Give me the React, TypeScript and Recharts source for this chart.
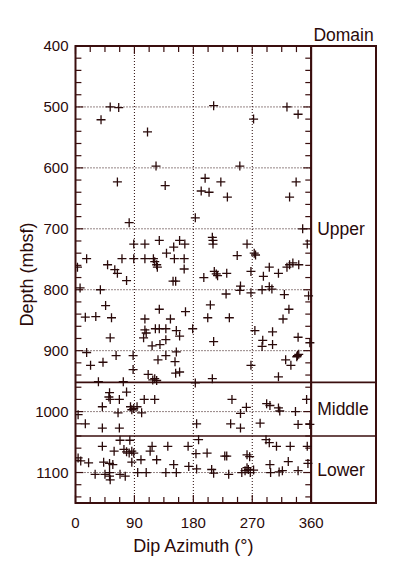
import {
  ScatterChart,
  Scatter,
  XAxis,
  YAxis,
  ReferenceLine,
  ReferenceArea,
  Label,
} from "recharts";

const FONT = '"Liberation Sans", Arial, Helvetica, sans-serif';
const INK = "#2a0a0a";
const FRAME = "#3a0e0e";

// axis setup
const AZIMUTH_MAX = 360;
const PANEL_MAX = 459; // right "Domain" column sits past 360 on the same scale
const DEPTH_MIN = 400;
const DEPTH_MAX = 1150;

const AZIMUTH_LABELS = [0, 90, 180, 270, 360];
const AZIMUTH_TICKS = [0, 22.5, 45, 67.5, 90, 112.5, 135, 157.5, 180, 202.5, 225, 247.5, 270, 292.5, 315, 337.5, 360];
const DEPTH_LABELS = [400, 500, 600, 700, 800, 900, 1000, 1100];
const DEPTH_TICKS = [
  400, 420, 440, 460, 480, 500, 520, 540, 560, 580, 600, 620, 640, 660, 680, 700, 720, 740, 760, 780,
  800, 820, 840, 860, 880, 900, 920, 940, 960, 980, 1000, 1020, 1040, 1060, 1080, 1100, 1120, 1140,
];
const GRID_AZIMUTH = [90, 180, 270];
const GRID_DEPTH = [500, 600, 700, 800, 900, 1000, 1100];

// inward tick lengths, in axis units (about 6 px minor / 8 px major)
const AZ_TICK_LEN = [9, 12];
const DEPTH_TICK_LEN = [10, 13];

// domain boundaries (mbsf)
const DOMAIN_BOUNDS = [952, 1040];
const DOMAIN_NAMES = ["Upper", "Middle", "Lower"];
const DOMAIN_LABEL_DEPTH = [700, 996, 1095];

// [dip azimuth (deg), depth (mbsf)]
const UPPER_DIPS = [
  [53, 500], [66, 501], [39, 521], [110, 541], [211, 498], [272, 520], [323, 500], [340, 512],
  [123, 597], [251, 597], [64, 623], [137, 629], [198, 617], [222, 623], [192, 638], [204, 640],
  [232, 648], [337, 623], [327, 648], [82, 690], [183, 682], [347, 700],
  [209, 714], [210, 719], [210, 725], [89, 725], [106, 725], [128, 719], [159, 719], [167, 725],
  [150, 730], [262, 725], [354, 725], [139, 740], [17, 749], [71, 749], [89, 749], [106, 749],
  [119, 749], [121, 754], [124, 759], [125, 763], [151, 749], [166, 749], [166, 766], [247, 744],
  [273, 740], [275, 743], [268, 770], [3, 763], [49, 759], [60, 767], [64, 773], [196, 780],
  [212, 770], [215, 774], [217, 777], [231, 773], [296, 763], [287, 778], [310, 773], [323, 763],
  [327, 759], [332, 756], [341, 759], [149, 786], [153, 786], [78, 785], [7, 797], [38, 800],
  [230, 807], [251, 801], [252, 794], [268, 805], [285, 800], [296, 795], [300, 799], [319, 808],
  [356, 810], [206, 825], [46, 826], [15, 845], [31, 844], [55, 846], [128, 832], [168, 836],
  [106, 848], [145, 848], [202, 846], [235, 846], [326, 832], [317, 848],
  [106, 866], [108, 871], [122, 864], [128, 864], [138, 864], [154, 867], [159, 876], [179, 864],
  [53, 879], [104, 879], [117, 892], [129, 890], [138, 882], [211, 885], [274, 867], [301, 869],
  [286, 883], [285, 893], [301, 890], [340, 878], [358, 887],
  [17, 903], [23, 924], [42, 919], [62, 908], [88, 908], [88, 931], [126, 915], [138, 908],
  [154, 902], [152, 918], [153, 937], [159, 935], [111, 939], [118, 948], [121, 946], [124, 949],
  [209, 946], [268, 924], [310, 943], [321, 915], [329, 924], [339, 908], [341, 906], [338, 910],
  [35, 951], [73, 951],
];

const MIDDLE_DIPS = [
  [183, 953], [52, 969], [51, 976], [78, 968], [53, 980], [67, 980], [105, 980], [121, 980],
  [41, 992], [84, 992], [86, 997], [89, 995], [94, 992], [65, 1002], [101, 1002], [4, 1005],
  [239, 980], [252, 1003], [261, 993], [292, 987], [297, 990], [310, 994], [312, 999], [353, 980],
  [336, 1000], [15, 1020], [41, 1027], [67, 1027], [185, 1020], [237, 1020], [252, 1027],
  [282, 1019], [340, 1021], [358, 1021],
];

const LOWER_DIPS = [
  [68, 1047], [83, 1047], [41, 1057], [59, 1065], [74, 1062], [78, 1066], [82, 1068], [86, 1065],
  [89, 1068], [117, 1057], [114, 1065], [141, 1057], [172, 1057], [188, 1046], [184, 1069],
  [201, 1068], [228, 1073], [231, 1073], [262, 1071], [266, 1074], [291, 1046], [296, 1051],
  [307, 1057], [328, 1057], [354, 1057],
  [4, 1076], [8, 1081], [20, 1084], [43, 1083], [52, 1085], [57, 1087], [86, 1083], [100, 1079],
  [124, 1079], [150, 1087], [154, 1100], [173, 1090], [185, 1094], [208, 1095], [211, 1101],
  [234, 1103], [254, 1100], [259, 1097], [262, 1092], [264, 1095], [267, 1100], [272, 1096],
  [297, 1087], [298, 1100], [311, 1099], [316, 1097], [325, 1082], [340, 1097], [355, 1085],
  [30, 1103], [45, 1103], [52, 1100], [52, 1106], [53, 1112], [68, 1103], [76, 1106], [95, 1100],
  [108, 1100], [138, 1100],
];

const toPoints = (rows: number[][]) => rows.map(([az, depth]) => ({ az, depth }));

// tick segments along the four sides of the azimuth frame
const tickSegments: { x: number; y: number }[][] = [];
AZIMUTH_TICKS.forEach((az) => {
  const len = DEPTH_TICK_LEN[az % 90 === 0 ? 1 : 0];
  tickSegments.push([{ x: az, y: DEPTH_MIN }, { x: az, y: DEPTH_MIN + len }]);
  tickSegments.push([{ x: az, y: DEPTH_MAX }, { x: az, y: DEPTH_MAX - len }]);
});
DEPTH_TICKS.forEach((depth) => {
  const len = AZ_TICK_LEN[depth % 100 === 0 ? 1 : 0];
  tickSegments.push([{ x: 0, y: depth }, { x: len, y: depth }]);
  tickSegments.push([{ x: AZIMUTH_MAX, y: depth }, { x: AZIMUTH_MAX - len, y: depth }]);
});

const Cross = (props: any) => {
  const { cx, cy } = props;
  if (cx == null || cy == null) return null;
  return (
    <path
      d={`M${cx - 4.5},${cy}h9M${cx},${cy - 4.5}v9`}
      stroke={INK}
      strokeWidth={1.3}
      fill="none"
    />
  );
};

const AzimuthLabel = ({ x, y, payload }: any) => (
  <text x={x} y={y + 20} dy="0.36em" textAnchor="middle" fontSize={15} fontFamily={FONT} fill={INK}>
    {payload.value}
  </text>
);

const DepthLabel = ({ x, y, payload }: any) => (
  <text x={x - 7} y={y} dy="0.36em" textAnchor="end" fontSize={15} fontFamily={FONT} fill={INK}>
    {payload.value}
  </text>
);

const labelStyle = { fontSize: 17.5, fontFamily: FONT, fill: INK };

export default function App() {
  return (
    <div style={{ width: 377, height: 560, background: "#fff" }}>
      <ScatterChart width={377} height={560} margin={{ top: 38, right: 9, bottom: 15, left: 0 }}>
        <XAxis
          dataKey="az"
          type="number"
          domain={[0, PANEL_MAX]}
          ticks={AZIMUTH_LABELS}
          interval={0}
          allowDataOverflow
          axisLine={false}
          tickLine={false}
          tickSize={0}
          tickMargin={0}
          height={50}
          tick={<AzimuthLabel />}
        />
        <YAxis
          dataKey="depth"
          type="number"
          reversed
          domain={[DEPTH_MIN, DEPTH_MAX]}
          ticks={DEPTH_LABELS}
          interval={0}
          allowDataOverflow
          axisLine={false}
          tickLine={false}
          tickSize={0}
          tickMargin={0}
          width={67.5}
          tick={<DepthLabel />}
        >
          <Label
            value="Depth (mbsf)"
            angle={-90}
            position="insideLeft"
            offset={19}
            style={{ ...labelStyle, fontSize: 18, textAnchor: "middle" }}
          />
        </YAxis>

        {GRID_AZIMUTH.map((az) => (
          <ReferenceLine key={"gx" + az} x={az} stroke={INK} strokeWidth={1} strokeDasharray="1 2" />
        ))}
        {GRID_DEPTH.map((d) => (
          <ReferenceLine
            key={"gy" + d}
            segment={[{ x: 0, y: d }, { x: AZIMUTH_MAX, y: d }]}
            stroke={INK}
            strokeWidth={1}
            strokeDasharray="1 2"
          />
        ))}
        {tickSegments.map((seg, i) => (
          <ReferenceLine key={"t" + i} segment={seg} stroke={FRAME} strokeWidth={1.2} />
        ))}

        <ReferenceArea
          x1={0}
          x2={AZIMUTH_MAX}
          y1={DEPTH_MIN}
          y2={DEPTH_MAX}
          fill="none"
          stroke={FRAME}
          strokeWidth={2}
          label={{ value: "Dip Azimuth (°)", position: "bottom", offset: 36, style: { ...labelStyle, fontSize: 18 } }}
        />
        <ReferenceArea
          x1={AZIMUTH_MAX}
          x2={PANEL_MAX}
          y1={DEPTH_MIN}
          y2={DEPTH_MAX}
          fill="#fff"
          fillOpacity={1}
          stroke={FRAME}
          strokeWidth={2}
          label={{ value: "Domain", position: "top", offset: 5, style: labelStyle }}
        />
        {DOMAIN_BOUNDS.map((d) => (
          <ReferenceLine key={"b" + d} y={d} stroke={FRAME} strokeWidth={1.6} />
        ))}
        {DOMAIN_NAMES.map((name, i) => (
          <ReferenceLine
            key={name}
            segment={[
              { x: AZIMUTH_MAX, y: DOMAIN_LABEL_DEPTH[i] },
              { x: PANEL_MAX, y: DOMAIN_LABEL_DEPTH[i] },
            ]}
            stroke="none"
            label={{ value: name, position: "insideLeft", offset: 6, style: labelStyle }}
          />
        ))}

        <Scatter data={toPoints(UPPER_DIPS)} shape={<Cross />} isAnimationActive={false} />
        <Scatter data={toPoints(MIDDLE_DIPS)} shape={<Cross />} isAnimationActive={false} />
        <Scatter data={toPoints(LOWER_DIPS)} shape={<Cross />} isAnimationActive={false} />
      </ScatterChart>
    </div>
  );
}
